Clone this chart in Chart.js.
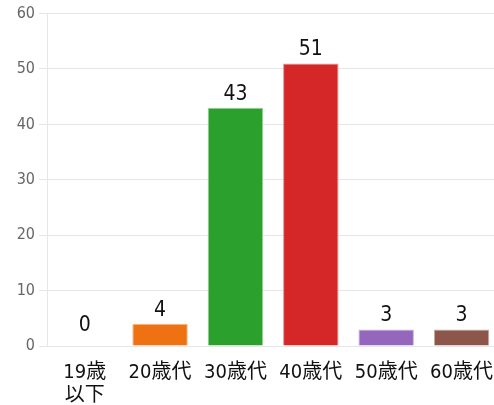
<!DOCTYPE html>
<html>
<head>
<meta charset="utf-8">
<script src="https://cdn.jsdelivr.net/npm/chart.js@4"></script>
<style>
  html, body { margin: 0; padding: 0; background: #fff; overflow: hidden; }
  #wrap { width: 500px; height: 405px; }
</style>
</head>
<body>
<div id="wrap"><canvas id="chart"></canvas></div>
<script>
const categories = [["19歳", "以下"], "20歳代", "30歳代", "40歳代", "50歳代", "60歳代"];
const counts = [0, 4, 43, 51, 3, 3];
const barColors = ["#1f77b4", "#ef7212", "#2ca02c", "#d62728", "#9467bd", "#8c564b"];
const borderColors = ["#8fbbd9", "#f7b98a", "#95cf95", "#eb9394", "#c9b3de", "#c5aba5"];
const yTicks = [0, 10, 20, 30, 40, 50, 60];

const FONT = "'DejaVu Sans', 'Noto Sans CJK JP', sans-serif";

// draw the value above each bar
const valueLabels = {
  id: "valueLabels",
  afterDatasetsDraw(chart) {
    const c = chart.ctx;
    const meta = chart.getDatasetMeta(0);
    c.save();
    c.fillStyle = "#111";
    c.font = "condensed 21px " + FONT;
    c.textAlign = "center";
    c.textBaseline = "bottom";
    meta.data.forEach((bar, i) => {
      // zero bars get their label lifted a little off the axis
      const y = Math.min(bar.y - 3, bar.base - 10);
      c.fillText(String(counts[i]), bar.x, y);
    });
    c.restore();
  }
};

new Chart(document.getElementById("chart"), {
  type: "bar",
  data: {
    labels: categories,
    datasets: [{
      data: counts,
      backgroundColor: barColors,
      borderColor: borderColors,
      borderWidth: 1,
      categoryPercentage: 0.8,
      barPercentage: 0.92
    }]
  },
  options: {
    responsive: true,
    maintainAspectRatio: false,
    animation: false,
    layout: { padding: { top: 6, right: 0, left: 0, bottom: 0 } },
    plugins: { legend: { display: false }, tooltip: { enabled: false } },
    scales: {
      y: {
        min: 0, max: 60,
        afterBuildTicks(axis) { axis.ticks = yTicks.map(v => ({ value: v })); },
        afterFit(axis) { axis.width = 47; },
        grid: { color: "#e6e6e6", tickLength: 8 },
        border: { color: "#e6e6e6" },
        ticks: { color: "#666", font: { family: FONT, size: 16, weight: "condensed" }, padding: 4 }
      },
      x: {
        afterFit(axis) { axis.height = 59; },
        grid: { display: false },
        border: { color: "#e6e6e6" },
        ticks: { color: "#111", font: { family: FONT, size: 20, weight: "condensed", lineHeight: 1.15 }, maxRotation: 0, padding: 7 }
      }
    }
  },
  plugins: [valueLabels]
});
</script>
</body>
</html>
